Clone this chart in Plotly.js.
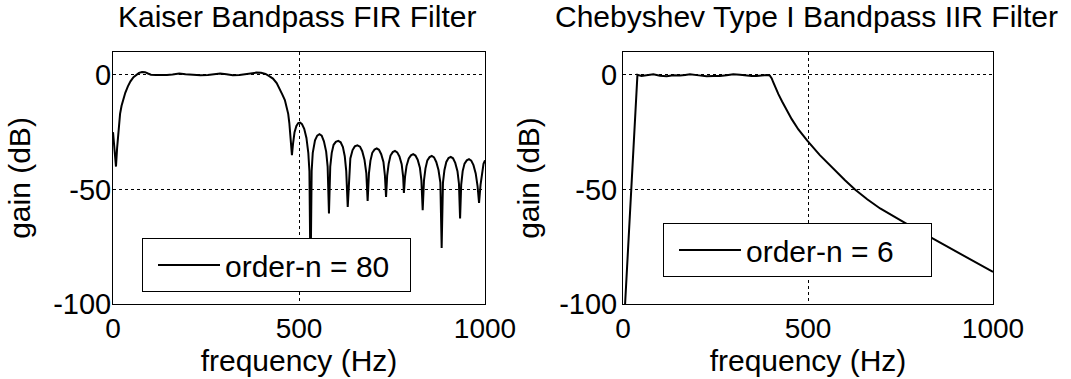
<!DOCTYPE html>
<html>
<head>
<meta charset="utf-8">
<script src="https://cdn.plot.ly/plotly-3.0.1.min.js"></script>
<style>
  html, body { margin: 0; padding: 0; background: #fff; }
  #chart { width: 1071px; height: 379px; }
</style>
</head>
<body>
<div id="chart"></div>
<script>
// Kaiser-window bandpass FIR (order 80): frequency (Hz) and gain (dB)
const firFreq = [
  0, 4, 8, 11, 15, 19, 23, 28, 33, 40, 47, 55, 62, 70, 78, 86, 94, 102,
  115, 130, 145, 160, 178, 195, 215, 235, 255, 270, 288, 305, 322, 340,
  355, 370, 385, 398, 410, 420, 430, 440, 448, 455, 462, 467, 471, 474,
  477, 479, 481, 484, 488, 493, 498, 503, 508, 514, 520, 525, 528, 531,
  534, 537, 543, 549, 555, 561, 567, 573, 577, 580.5, 584, 588, 593, 599,
  605.5, 612, 618, 623, 627, 631, 635, 638, 644, 650, 657, 664, 670, 676,
  681, 684.5, 688, 692, 697, 703, 709, 715, 721, 727, 731, 734, 737, 741,
  746, 752, 758, 764, 770, 776, 780, 782, 785, 789, 795, 801, 807, 813,
  819, 825, 829, 832.5, 836, 840, 845, 851, 857, 863, 869, 875, 880, 883.5,
  887, 891, 896, 902, 908, 914, 920, 926, 930, 933, 936, 940, 945, 951,
  957, 963, 969, 975, 980, 984, 988, 992, 996, 1000
];
const firGain = [
  -25, -33, -40, -32, -22, -17, -13.5, -10.5, -7.8, -5, -2.8, -1, 0, 0.9, 1.3, 1.2, 0.6, 0.1,
  0, -0.1, 0, 0.2, 0.6, 0.3, -0.1, -0.2, 0, 0.2, 0.6, 0.3, -0.1, 0,
  0.3, 0.8, 1, 0.9, 0.4, -0.5, -1.6, -3.6, -6, -8.5, -11, -14, -17, -21,
  -27, -31, -35, -30, -25, -22.3, -21, -20.8, -21.5, -23.5, -27.5, -34, -42, -90,
  -42, -34, -28.5, -26.5, -25.9, -26.5, -29, -33.5, -40, -60.5, -40, -34, -30.5, -29.2,
  -28.8, -29.4, -31.5, -35.5, -42, -57.6, -42, -36.5, -32.8, -31.2, -30.7, -31.3, -33.3, -37,
  -43, -55, -43, -37.5, -34, -32.6, -32.1, -32.7, -34.6, -38, -44, -53.3, -44, -38.8,
  -35.2, -33.7, -33.2, -33.8, -35.6, -39, -44.5, -51.5, -44.5, -39.8, -36.5, -35.1, -34.6, -35.2,
  -37, -40.5, -46, -59.1, -46, -40.8, -37.3, -35.9, -35.4, -36, -38, -41.5, -47, -75.5,
  -47, -41.5, -38, -36.3, -35.8, -36.4, -38.4, -42, -47.5, -62.7, -48, -42, -38.7, -37.3,
  -36.8, -37.4, -39.4, -43, -48.5, -55.9, -48, -42, -38.8, -37.3
];

// Chebyshev Type I bandpass IIR (order 6): frequency (Hz) and gain (dB)
const iirFreq = [
  0, 10, 20, 30, 39, 50, 65, 82, 100, 118, 136, 154, 168, 181, 205, 226,
  244, 262, 280, 298, 316, 334, 348, 361, 375, 388, 397, 402, 406, 412,
  420, 430, 442, 456, 474, 498, 532, 568, 600, 627, 660, 695, 735, 776,
  810, 848, 890, 929, 965, 1000
];
const iirGain = [
  -117, -86, -54, -25, 0, -0.5, -0.2, 0.3, -0.4, -0.6, -0.2, -0.3, 0, 0.3, -0.2, -0.6,
  -0.5, -0.5, -0.1, 0.3, 0.1, -0.3, -0.5, -0.5, -0.2, 0, -0.3, -1.5, -3.2, -5.6,
  -8.4, -11.6, -15.2, -19.3, -23.8, -28.7, -35, -41, -46, -50, -54.3, -58.3, -62.2, -65.9,
  -69, -72.4, -76.1, -79.6, -82.8, -86
];

const subplotTitles = ['Kaiser Bandpass FIR Filter', 'Chebyshev Type I Bandpass IIR Filter'];
const legendNames = ['order-n = 80', 'order-n = 6'];
const freqTicks = [0, 500, 1000];
const gainTicks = [-100, -50, 0];

const W = 1071, H = 379;
const px = v => v / W;          // horizontal pixel -> paper fraction
const py = v => 1 - v / H;      // vertical pixel (from top) -> paper fraction

const FONT = 'Liberation Sans, Arial, Helvetica, sans-serif';

const traces = [
  {
    x: firFreq, y: firGain, xaxis: 'x', yaxis: 'y',
    type: 'scatter', mode: 'lines', name: legendNames[0], legend: 'legend',
    line: { color: '#000', width: 2 }
  },
  {
    x: iirFreq, y: iirGain, xaxis: 'x2', yaxis: 'y2',
    type: 'scatter', mode: 'lines', name: legendNames[1], legend: 'legend2',
    line: { color: '#000', width: 2 }
  }
];

function xAxis(domain, anchor) {
  return {
    domain: domain, anchor: anchor, range: [0, 1000],
    tickvals: freqTicks, ticktext: freqTicks.map(String),
    tickfont: { size: 28 }, ticks: '', ticklabelstandoff: -1,
    showline: true, mirror: true, linecolor: '#000', linewidth: 1,
    showgrid: true, gridcolor: '#000', gridwidth: 1, griddash: '3px,3px',
    zeroline: false, fixedrange: true,
    title: { text: 'frequency (Hz)', font: { size: 30 }, standoff: 0 }
  };
}
function yAxis(domain, anchor, labelStandoff, titleStandoff) {
  return {
    domain: domain, anchor: anchor, range: [-100, 10],
    tickvals: gainTicks, ticktext: gainTicks.map(String),
    tickfont: { size: 29 }, ticks: '', ticklabelstandoff: labelStandoff,
    showline: true, mirror: true, linecolor: '#000', linewidth: 1,
    showgrid: true, gridcolor: '#000', gridwidth: 1, griddash: '3px,3px',
    zeroline: false, fixedrange: true,
    title: { text: 'gain (dB)', font: { size: 30 }, standoff: titleStandoff }
  };
}

const yDom = [py(304), py(52)];

function legendBox(left, top) {
  return {
    x: px(left), y: py(top), xanchor: 'left', yanchor: 'top',
    orientation: 'h', indentation: 10, itemwidth: 62,
    entrywidth: 180, entrywidthmode: 'pixels',
    bgcolor: '#fff', bordercolor: '#000', borderwidth: 1,
    font: { size: 30 }
  };
}

const layout = {
  width: W, height: H,
  margin: { l: 0, r: 0, t: 0, b: 0 },
  paper_bgcolor: '#fff', plot_bgcolor: '#fff',
  font: { family: FONT, size: 28, color: '#000' },
  hovermode: false,
  showlegend: true,
  xaxis: xAxis([px(113), px(485)], 'y'),
  yaxis: yAxis(yDom, 'x', -5, 13),
  xaxis2: xAxis([px(623), px(993)], 'y2'),
  yaxis2: yAxis(yDom, 'x2', -1, 10),
  legend: legendBox(142, 238),
  legend2: legendBox(663, 223),
  annotations: [
    { text: subplotTitles[0], xref: 'paper', yref: 'paper', x: px(297), y: py(16),
      xanchor: 'center', yanchor: 'middle', showarrow: false, font: { size: 30 } },
    { text: subplotTitles[1], xref: 'paper', yref: 'paper', x: px(806), y: py(16),
      xanchor: 'center', yanchor: 'middle', showarrow: false, font: { size: 30 } }
  ]
};

Plotly.newPlot('chart', traces, layout, { staticPlot: true, displayModeBar: false });
</script>
</body>
</html>
